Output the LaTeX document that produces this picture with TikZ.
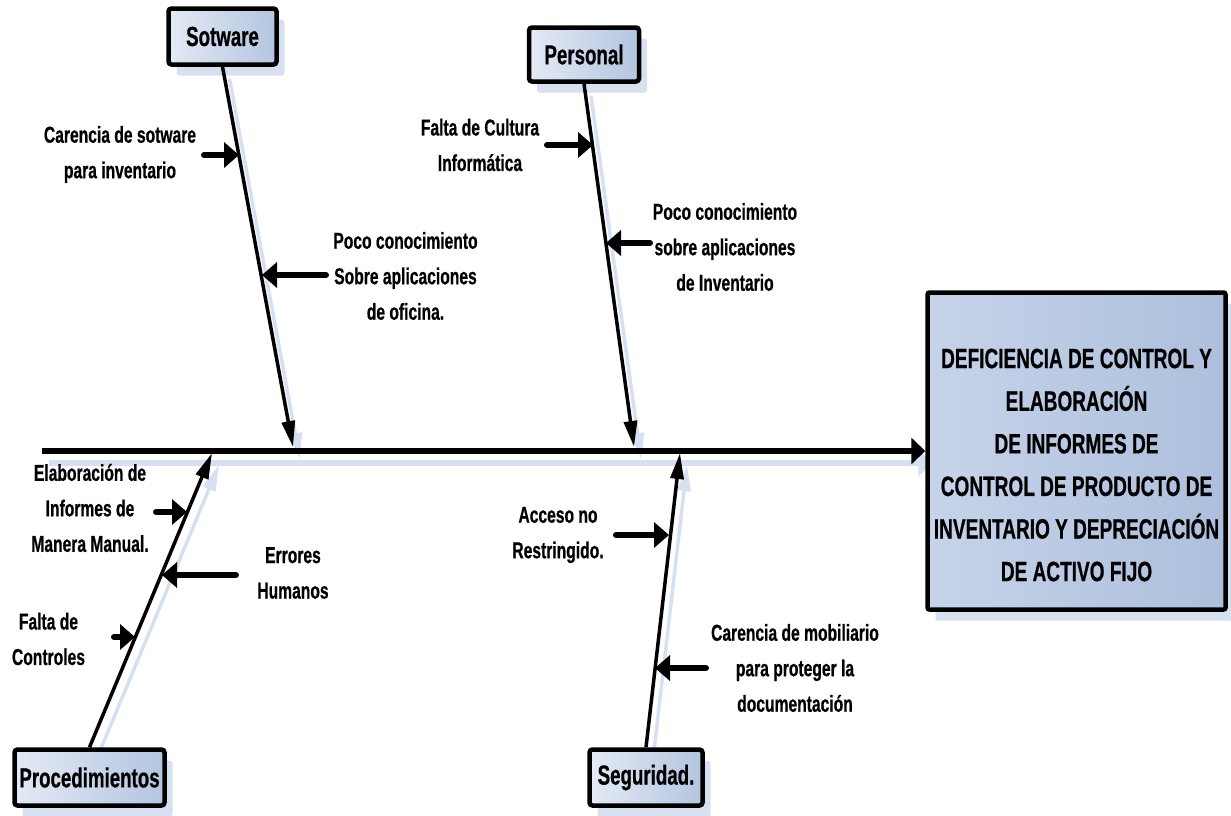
\documentclass[tikz,border=0pt]{standalone}
\usepackage{fontspec}
\setmainfont{Liberation Sans}[FakeStretch=0.68,BoldFeatures={FakeStretch=0.68,FakeBold=0.6}]
\usetikzlibrary{arrows.meta,shadows,calc}
\definecolor{boxL}{HTML}{E4EAF5}
\definecolor{boxR}{HTML}{B3C5E0}
\definecolor{effL}{HTML}{C6D4EA}
\definecolor{effR}{HTML}{ADBFDC}
\definecolor{shade}{HTML}{D6E0F0}
\pgfdeclarelayer{bg}
\pgfsetlayers{bg,main}
\begin{document}
\begin{tikzpicture}[x=1pt,y=-1pt,
  catbox/.style={draw=black, line width=4.5pt, rounded corners=3pt,
    left color=boxL, right color=boxR, inner sep=0pt,
    font=\fontsize{27.5}{30}\selectfont\bfseries,
    drop shadow={shadow xshift=8pt, shadow yshift=-11pt, fill=shade, opacity=1}},
  effbox/.style={draw=black, line width=4.5pt, rounded corners=2pt,
    left color=effL, right color=effR, inner sep=0pt,
    minimum width=298pt, minimum height=317pt,
    drop shadow={shadow xshift=8pt, shadow yshift=-11pt, fill=shade, opacity=1}},
  efftext/.style={align=center, font=\fontsize{28}{42.6}\selectfont\bfseries},
  cause/.style={align=center, font=\fontsize{23}{35.5}\selectfont\bfseries},
  spine/.style={line width=5.5pt, -{Triangle[length=14pt,width=26pt]}},
  bone/.style={line width=3.5pt, -{Triangle[length=26pt,width=13pt]}},
  spineshadow/.style={spine, draw=shade, transform canvas={xshift=7pt,yshift=-12pt}},
  boneshadow/.style={bone, draw=shade, transform canvas={xshift=7pt,yshift=-12pt}},
  sub/.style={line width=6pt, line cap=round, -{Triangle[length=15pt,width=25pt]}}
]
\useasboundingbox (0,0) rectangle (1231,815);

% category boxes and effect
\node[catbox, minimum width=108pt, minimum height=56pt] (sw) at (222.5,36.5) {Sotware};
\node[catbox, minimum width=110pt, minimum height=54pt] (pe) at (584,54.5) {Personal};
\node[catbox, minimum width=150pt, minimum height=56pt] (pr) at (89.5,777.5) {Procedimientos};
\node[catbox, minimum width=113pt, minimum height=56pt] (se) at (646,777.5) {Seguridad.};
\node[effbox] (eff) at (1076.5,451) {};
\node[efftext] (efft) at (1076.5,465) {DEFICIENCIA DE CONTROL Y\\ELABORACIÓN\\DE INFORMES DE\\CONTROL DE PRODUCTO DE\\INVENTARIO Y DEPRECIACIÓN\\DE ACTIVO FIJO};

% spine and bone end points
\coordinate (tail) at (42,451);
\coordinate (swT) at (293,447);
\coordinate (peT) at (634,447);
\coordinate (prT) at (212,453);
\coordinate (seT) at (680,453);

% shadows of the spine and bones
\begin{pgfonlayer}{bg}
\draw[spineshadow] (tail) -- (eff.west);
\draw[boneshadow] (sw.south) -- (swT);
\draw[boneshadow] (pe.south) -- (peT);
\draw[boneshadow] (pr.north) -- (prT);
\draw[boneshadow] (se.north) -- (seT);
\end{pgfonlayer}

% spine and bones
\draw[spine] (tail) -- (eff.west);
\draw[bone] (sw.south) -- (swT);
\draw[bone] (pe.south) -- (peT);
\draw[bone] (pr.north) -- (prT);
\draw[bone] (se.north) -- (seT);

% causes
\node[cause] (c1) at (120,154.5) {Carencia de sotware\\para inventario};
\node[cause] (c2) at (405.5,276) {Poco conocimiento\\Sobre aplicaciones\\de oficina.};
\node[cause] (c3) at (480,145) {Falta de Cultura\\Informática};
\node[cause] (c4) at (725,247) {Poco conocimiento\\sobre aplicaciones\\de Inventario};
\node[cause] (c5) at (90,508) {Elaboración de\\Informes de\\Manera Manual.};
\node[cause] (c6) at (293,573) {Errores\\Humanos};
\node[cause] (c7) at (48.5,639) {Falta de\\Controles};
\node[cause] (c8) at (558,535) {Acceso no\\Restringido.};
\node[cause] (c9) at (795,668) {Carencia de mobiliario\\para proteger la\\documentación};

% cause arrows: tails and points on the bones
\coordinate (a1s) at (204,155);  \coordinate (a1e) at (239,155);
\coordinate (a2s) at (326,275);  \coordinate (a2e) at (262,275);
\coordinate (a3s) at (547,145);  \coordinate (a3e) at (593,145);
\coordinate (a4s) at (650,243);  \coordinate (a4e) at (606,243);
\coordinate (a5s) at (156,512);  \coordinate (a5e) at (187,512);
\coordinate (a6s) at (236,575);  \coordinate (a6e) at (162,575);
\coordinate (a7s) at (114,637);  \coordinate (a7e) at (135,637);
\coordinate (a8s) at (616,535);  \coordinate (a8e) at (669,535);
\coordinate (a9s) at (706,668);  \coordinate (a9e) at (655,668);

\foreach \k in {1,...,9} \draw[sub] (a\k s) -- (a\k e);
\end{tikzpicture}
\end{document}
